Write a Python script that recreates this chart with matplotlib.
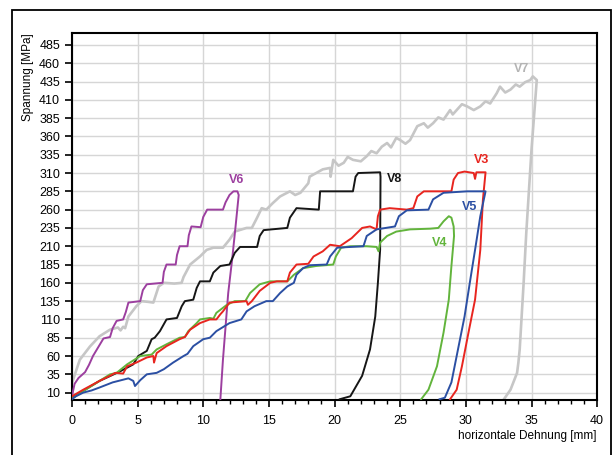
import numpy as np
import matplotlib
matplotlib.use("Agg")
from matplotlib import pyplot as plt
from matplotlib.patches import Rectangle
from matplotlib.ticker import MultipleLocator

plt.rcParams['font.family'] = ['Liberation Sans', 'DejaVu Sans']

# curves: horizontal strain [mm], stress [MPa]
v3_x = [0, 0.86, 2.1, 2.9, 3.3, 3.9, 4.2, 4.9, 5.7, 6.2, 6.25, 6.45, 7.2, 8.2, 8.6, 9.0, 9.75, 10.5, 11.0,
        11.3, 11.5, 12.0, 13.3, 13.4, 13.7, 14.3, 15.1, 15.6, 16.4, 16.6, 17.1, 18.0, 18.4, 19.1, 19.66,
        20.4, 21.3, 22.1, 22.7, 23.2, 23.3, 23.47, 24.2, 25.5, 26.0, 26.3, 26.8, 27.5, 28.9, 29.07, 29.4,
        29.9, 30.6, 30.7, 30.8, 31.1, 31.5, 31.3, 31.1, 30.7, 30.2, 29.7, 29.3, 28.8]
v3_y = [5, 14, 26, 33, 37, 36, 46, 51, 58, 60, 51, 64, 73.5, 83, 86, 96, 105, 110, 110,
        117, 121, 133, 135, 130, 135, 149, 160, 162, 162, 174, 185, 186, 196, 203, 212,
        210, 221, 235, 237, 233, 251, 260, 262, 260, 262, 278, 285, 285, 285, 301, 310,
        312, 310, 302, 311, 311, 311, 274, 205, 137, 92, 46, 14, 1]

v5_x = [0, 0.3, 0.86, 1.5, 2.1, 3.1, 4.3, 4.67, 4.8, 5.0, 5.2, 5.7, 6.45, 7.0, 7.7, 8.5, 8.8, 9.24, 10.0,
        10.5, 11.0, 12.0, 12.9, 13.3, 13.9, 14.8, 15.3, 15.85, 16.4, 16.9, 17.1, 17.6, 18.1, 19.4, 19.66,
        20.2, 22.2, 22.45, 23.2, 24.6, 24.9, 25.5, 27.15, 27.5, 28.3, 30.1, 31.5, 31.1, 30.7, 30.3, 29.9,
        29.4, 28.9, 28.4, 28.0]
v5_y = [1, 5, 10, 13, 17, 24, 29.5, 26, 19, 23, 27, 35, 37, 42, 51, 60, 63, 73.5, 83,
        85, 94, 105, 110, 121, 128, 135, 135, 146, 155, 160, 171, 180, 184, 185, 196,
        208, 210, 224, 233, 237, 251, 259, 260, 274, 283, 285, 285, 251, 205, 160, 114,
        69, 24, 3, 1]

v4_x = [0, 0.86, 2.1, 2.9, 3.4, 4.2, 5.2, 6.07, 6.45, 7.2, 8.2, 8.6, 8.86, 9.5, 9.75, 10.5, 10.77, 11.0,
        11.8, 12.4, 13.2, 13.56, 14.3, 15.1, 16.4, 16.9, 17.6, 18.6, 19.9, 20.1, 20.5, 21.2, 22.45, 23.2,
        23.35, 23.47, 24.0, 24.7, 25.75, 27.3, 27.9, 28.3, 28.7, 28.9, 29.07, 29.1, 28.9, 28.7, 28.3,
        27.8, 27.15, 26.6]
v4_y = [2, 12, 26, 35, 37, 48.6, 60, 62, 69, 76, 85, 86, 94, 105, 110, 112, 111, 119,
        130, 135, 135, 146, 158, 162, 162, 171, 180, 183, 185, 196, 208, 210, 210, 209,
        203, 215, 224, 230, 233, 234, 235, 244, 251, 249, 237, 224, 183, 137, 92,
        46, 14, 1]

v8_x = [0, 1.0, 2.1, 3.66, 4.67, 5.05, 5.7, 6.07, 6.3, 6.7, 7.2, 8.0, 8.36, 8.6, 9.24, 9.5, 9.75, 10.5,
        10.77, 11.3, 12.0, 12.4, 12.8, 14.1, 14.3, 14.6, 16.4, 16.6, 17.1, 18.8, 18.9, 21.4, 21.6, 21.8,
        23.47, 23.5, 23.47, 23.3, 23.1, 22.7, 22.1, 21.2, 20.4]
v8_y = [3, 14, 26, 39, 48.6, 60, 67, 83, 85, 94, 110, 112, 128, 135, 137, 153, 162, 162,
        174, 183, 185, 201, 209, 209, 224, 232, 235, 249, 262, 260, 285, 285, 305, 310,
        311, 305, 205, 160, 114, 69, 33, 5, 1]

v6_x = [0, 0.2, 0.5, 1.0, 1.3, 1.6, 2.0, 2.4, 2.9, 3.1, 3.4, 3.9, 4.1, 4.3, 5.2, 5.4, 5.7, 6.9, 7.0, 7.2,
        7.9, 8.0, 8.2, 8.8, 8.9, 9.1, 9.8, 10.0, 10.3, 11.5, 11.7, 12.0, 12.3, 12.6, 12.7, 12.46, 12.2,
        11.9, 11.5, 11.3]
v6_y = [5, 22, 30, 38, 48, 60, 72, 84, 86, 98, 108, 110, 120, 133, 135, 150, 158, 160, 175, 185,
        185, 198, 210, 210, 225, 237, 236, 250, 260, 260, 270, 280, 285, 285, 280, 237, 192,
        146, 55, 0]

v7_x = [0, 0.6, 1.37, 2.1, 2.9, 3.5, 3.7, 3.9, 4.05, 4.3, 4.9, 5.3, 5.8, 6.2, 6.6, 7.0, 7.8, 8.35, 8.5,
        9.0, 9.75, 10.26, 10.77, 11.5, 12.0, 12.4, 13.3, 13.7, 14.1, 14.45, 14.8, 15.3, 15.85, 16.6, 17.0,
        17.4, 18.0, 18.1, 18.6, 19.1, 19.66, 19.7, 19.9, 20.3, 20.7, 21.0, 21.4, 22.0, 22.45, 22.8, 23.2,
        23.6, 24.0, 24.3, 24.7, 25.0, 25.4, 25.75, 26.3, 26.8, 27.1, 27.5, 27.9, 28.3, 28.8, 29.0, 29.3,
        29.7, 30.1, 30.6, 31.1, 31.5, 31.85, 32.35, 32.6, 33.0, 33.4, 33.8, 34.1, 34.5, 34.9, 35.1, 35.4,
        35.0, 34.6, 34.4, 34.1, 34.0, 33.9, 33.4, 32.9]
v7_y = [23, 55, 73, 87, 96, 99, 95, 100, 98, 114, 128, 135, 134, 133, 155, 160, 159, 160, 168,
        185, 196, 205, 208, 208, 219, 230, 235, 235, 249, 262, 260, 269, 278, 285, 280,
        283, 296, 305, 310, 315, 317, 305, 328, 320, 324, 332, 328, 326, 333, 340, 337,
        346, 351, 345, 358, 355, 350, 355, 374, 378, 372, 378, 386, 383, 396, 390, 396,
        404, 401, 396, 401, 408, 405, 419, 428, 420, 424, 431, 428, 434, 437, 442, 437,
        342, 228, 160, 69, 51, 37, 14, 1]

labels = ['V6', 'V8', 'V3', 'V5', 'V4', 'V7']
label_x = [12.55, 24.6, 31.2, 30.25, 28.0, 34.26]
label_y = [300, 302, 328, 264, 215, 452]

y_ticks = list(range(10, 486, 25))

c_red = '#e8251f'
c_blue = '#2b4fa3'
c_green = '#62b43c'
c_purple = '#9c3f9f'
c_black = '#161616'
c_gray = '#c6c6c6'

fig = plt.figure(figsize=(6.15, 4.55), dpi=100)
ax = fig.add_axes([0.117, 0.121, 0.854, 0.806])

ax.plot(v7_x, v7_y, color=c_gray, lw=1.9, zorder=2)
ax.plot(v6_x, v6_y, color=c_purple, lw=1.4, zorder=3)
ax.plot(v8_x, v8_y, color=c_black, lw=1.4, zorder=3)
ax.plot(v4_x, v4_y, color=c_green, lw=1.4, zorder=4)
ax.plot(v3_x, v3_y, color=c_red, lw=1.4, zorder=4)
ax.plot(v5_x, v5_y, color=c_blue, lw=1.4, zorder=5)

lab_cols = [c_purple, c_black, c_red, c_blue, c_green, '#b4b4b4']
for t, x, y, c in zip(labels, label_x, label_y, lab_cols):
    ax.text(x, y, t, color=c, fontsize=9, fontweight='bold', ha='center', va='center')

ax.set_xlim(0, 40)
ax.set_ylim(0, 501)
ax.set_yticks(y_ticks)
ax.xaxis.set_major_locator(MultipleLocator(5))
ax.xaxis.set_minor_locator(MultipleLocator(1))
ax.grid(True, which='major', color='#d6d6d6', lw=1.0, zorder=0)
ax.set_axisbelow(True)
ax.tick_params(axis='both', which='major', direction='out', length=5, width=1.2, labelsize=9, colors='black')
ax.tick_params(axis='x', which='major', pad=6)
ax.tick_params(axis='x', which='minor', direction='out', length=3, width=1.0)
for s in ax.spines.values():
    s.set_linewidth(1.5)
    s.set_color('black')

fig.text(28 / 615, 1 - 33 / 455, 'Spannung [MPa]', rotation=90, ha='center', va='top', fontsize=8.5)
fig.text(597 / 615, 1 - 436 / 455, 'horizontale Dehnung [mm]', ha='right', va='center', fontsize=8.5)

# outer frame of the figure
fig.patches.append(Rectangle((12 / 615, -0.02), 599 / 615, 1.02 - 10 / 455, transform=fig.transFigure,
                             fill=False, edgecolor='black', lw=1.3))

fig.savefig('out.png', dpi=100)
